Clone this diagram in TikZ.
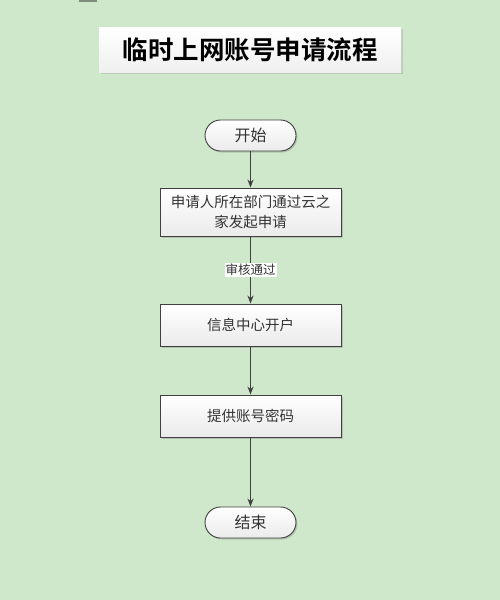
\documentclass[tikz,border=0pt]{standalone}
\usepackage{fontspec}
\newfontfamily\cjk{Noto Sans CJK SC}
\newfontfamily\cjkb{Noto Sans CJK SC Bold}
\usetikzlibrary{arrows.meta,shadows}
\definecolor{bg}{HTML}{CFE8CB}
\definecolor{ln}{HTML}{404040}
\tikzset{
  procbox/.style={draw=ln, line width=0.9pt, minimum width=181pt, top color=white, bottom color=black!8,
    drop shadow={shadow xshift=1.5pt, shadow yshift=-1.5pt, opacity=0.35}, align=center, font=\cjk\fontsize{14.5}{20}\selectfont, text=black!80},
  termbox/.style={draw=ln, line width=0.9pt, rectangle, rounded corners=15.5pt, minimum width=91pt, minimum height=31pt, top color=white, bottom color=black!8,
    drop shadow={shadow xshift=1.5pt, shadow yshift=-1.5pt, opacity=0.35}, font=\cjk\fontsize{16}{19}\selectfont, text=black!80},
  flow/.style={draw=ln, line width=0.9pt, -{Stealth[length=8pt,width=6pt]}},
}
\begin{document}
\begin{tikzpicture}[x=1pt,y=-1pt]
\fill[bg] (0,0) rectangle (500,600);
\useasboundingbox (0,0) rectangle (500,600);
\fill[black!40!bg] (79,0) rectangle (97,1.5);
% title
\node[top color=white, bottom color=black!6, minimum width=302pt, minimum height=45pt, inner sep=0pt,
  drop shadow={shadow xshift=1.5pt, shadow yshift=-1.5pt, opacity=0.25},
  font=\cjkb\fontsize{25.5}{28}\selectfont] (title) at (250,49.5) {临时上网账号申请流程};
\node[termbox] (start) at (250.5,135.5) {开始};
\node[procbox, minimum height=48pt] (apply) at (250.5,212) {申请人所在部门通过云之\\家发起申请};
\node[procbox, minimum height=42pt] (open) at (250.5,325) {信息中心开户};
\node[procbox, minimum height=42pt] (give) at (250.5,416) {提供账号密码};
\node[termbox] (end) at (250.5,522.5) {结束};
\draw[flow] (start) -- (apply);
\draw[flow] (apply) -- node[fill=white, inner sep=1pt, font=\cjk\fontsize{12.5}{14}\selectfont, text=black!80, pos=0.5] (lbl) {审核通过} (open);
\draw[flow] (open) -- (give);
\draw[flow] (give) -- (end);
\end{tikzpicture}
\end{document}
